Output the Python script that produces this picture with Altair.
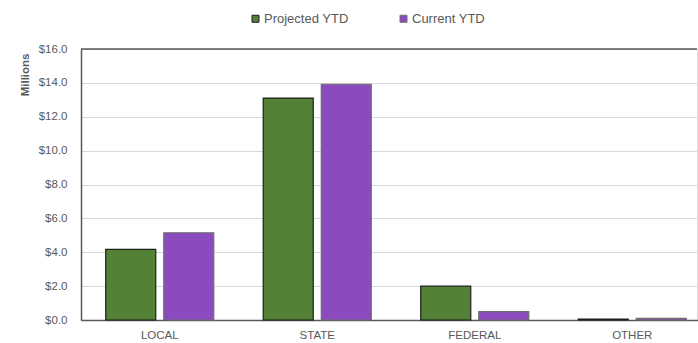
import altair as alt
import pandas as pd

categories = ["LOCAL", "STATE", "FEDERAL", "OTHER"]
series = ["Projected YTD", "Current YTD"]
projected = [4.17, 13.1, 2.0, 0.06]
current = [5.15, 13.92, 0.5, 0.1]
y_ticks = [0, 2, 4, 6, 8, 10, 12, 14, 16]

rows = []
for c, p, q in zip(categories, projected, current):
    rows.append({"cat": c, "series": series[0], "value": p})
    rows.append({"cat": c, "series": series[1], "value": q})
df = pd.DataFrame(rows)

font = "Liberation Sans"
txt = "#595959"

y_axis = alt.Axis(values=y_ticks, format="$.1f", labelFont=font, labelFontSize=11.5,
                  labelColor=txt, ticks=False, labelPadding=14, labelOverlap=False,
                  domainColor="#595959", domainWidth=1.5,
                  gridColor="#d9d9d9", gridWidth=1,
                  titleFont=font, titleFontSize=11.5, titleFontWeight="bold",
                  titleColor=txt, titleAnchor="end", titleAlign="right",
                  titleAngle=-90, titleBaseline="middle", titleX=-56, titleY=4)
y_scale = alt.Scale(domain=[0, 16], nice=False)

bars = alt.Chart(df).mark_bar(strokeWidth=1.2).encode(
    x=alt.X("cat:N", sort=categories, title=None,
            scale=alt.Scale(paddingInner=0.314, paddingOuter=0.157, range=[0, 630]),
            axis=alt.Axis(labelAngle=0, labelFont=font, labelFontSize=11.5, labelColor=txt,
                          domainColor="#595959", domainWidth=1.5, ticks=False, labelPadding=9)),
    xOffset=alt.XOffset("series:N", sort=series,
                        scale=alt.Scale(paddingInner=0.138, paddingOuter=0)),
    y=alt.Y("value:Q", title="Millions", scale=y_scale, axis=y_axis),
    color=alt.Color("series:N", sort=series, title=None,
                    scale=alt.Scale(domain=series, range=["#538135", "#8B4ABE"]),
                    legend=alt.Legend(orient="none", legendX=168, legendY=-37,
                                      direction="horizontal", symbolType="square",
                                      symbolSize=49, symbolStrokeWidth=1,
                                      labelFont=font, labelFontSize=13, labelColor=txt,
                                      columnPadding=48, labelOffset=2)),
    stroke=alt.Stroke("series:N", sort=series, title=None,
                      scale=alt.Scale(domain=series, range=["#1e1e1e", "#6e6e6e"]),
                      legend=None),
)

top_rule = alt.Chart(pd.DataFrame({"v": [16]})).mark_rule(color="#595959", strokeWidth=1.5).encode(
    y=alt.Y("v:Q", title="Millions", scale=y_scale, axis=y_axis)
)

chart = alt.layer(bars, top_rule).properties(
    width=616, height=271,
    autosize="none",
    padding={"left": 81, "top": 49, "right": 1, "bottom": 23},
).configure_view(stroke=None).configure(background="white")

chart.save("out.html", embed_options={"renderer": "svg", "actions": False})
